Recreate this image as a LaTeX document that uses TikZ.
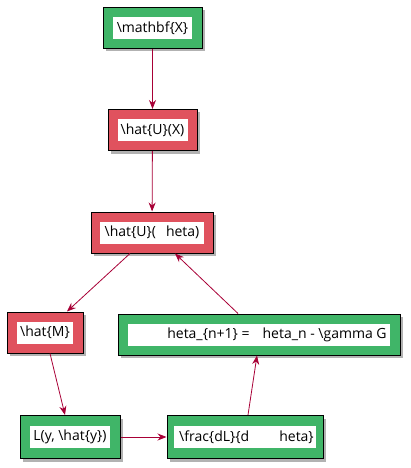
\documentclass[tikz,border=0pt]{standalone}
\usepackage{fontspec}
\setmainfont{Open Sans}
\usepackage{tikz}
\usetikzlibrary{positioning,shadows,arrows.meta}

\definecolor{umlgreen}{RGB}{64,181,104}
\definecolor{umlred}{RGB}{224,82,94}
\definecolor{umlarrow}{RGB}{168,0,54}

\tikzset{
	frame/.style={draw=black, line width=1pt, minimum height=41pt, inner sep=0pt,
		drop shadow={shadow xshift=3pt, shadow yshift=-3pt, fill=black!60, opacity=0.5}},
	txt/.style={fill=white, inner xsep=2pt, inner ysep=0pt, minimum height=22pt,
		font=\fontsize{14}{16}\selectfont},
	flow/.style={umlarrow, line width=0.8pt, -{Stealth[length=9pt, width=7pt, inset=3pt]}}
}

\begin{document}
\begin{tikzpicture}[x=1pt, y=-1pt]
	\useasboundingbox (0,0) rectangle (410,468);
	
	%Rahmen
	\node[frame, fill=umlgreen, minimum width=99pt] (x) at (152.5,28) {};
	\node[frame, fill=umlred, minimum width=89pt] (ux) at (152.5,130) {};
	\node[frame, fill=umlred, minimum width=122pt] (ut) at (152,232.5) {};
	\node[frame, fill=umlred, minimum width=76pt] (m) at (45,332.5) {};
	\node[frame, fill=umlgreen, minimum width=282pt] (upd) at (259,334.5) {};
	\node[frame, fill=umlgreen, minimum width=100pt, minimum height=43pt] (loss) at (70,437) {};
	\node[frame, fill=umlgreen, minimum width=156pt, minimum height=43pt] (grad) at (245,437) {};
	
	%Texte
	\node[txt, minimum width=79pt] at (x) {\textbackslash mathbf\{X\}};
	\node[txt, minimum width=70pt] at (ux) {\textbackslash hat\{U\}(X)};
	\node[txt, minimum width=104pt] at (ut) {\textbackslash hat\{U\}(\hspace{10pt}heta)};
	\node[txt, minimum width=56pt] at (m) {\textbackslash hat\{M\}};
	\node[txt, minimum width=262pt] at (upd) {\hspace*{36pt}heta\_\{n+1\} =\hspace{13pt}heta\_n - \textbackslash gamma G};
	\node[txt, minimum width=80pt] at (loss) {L(y, \textbackslash hat\{y\})};
	\node[txt, minimum width=136pt] at (grad) {\hspace*{3pt}\textbackslash frac\{dL\}\{d\hspace{30pt}heta\}};
	
	%Pfeile
	\draw[flow] (x) -- (ux);
	\draw[flow] (ux) -- (ut);
	\draw[flow] ([xshift=-22pt]ut.south) -- ([xshift=22pt]m.north);
	\draw[flow] ([xshift=5pt]m.south) -- ([xshift=-5pt]loss.north);
	\draw[flow] (loss) -- (grad);
	\draw[flow] ([xshift=3pt]grad.north) -- ([xshift=-2pt]upd.south);
	\draw[flow] ([xshift=-21pt]upd.north) -- ([xshift=23pt]ut.south);

\end{tikzpicture}
\end{document}
